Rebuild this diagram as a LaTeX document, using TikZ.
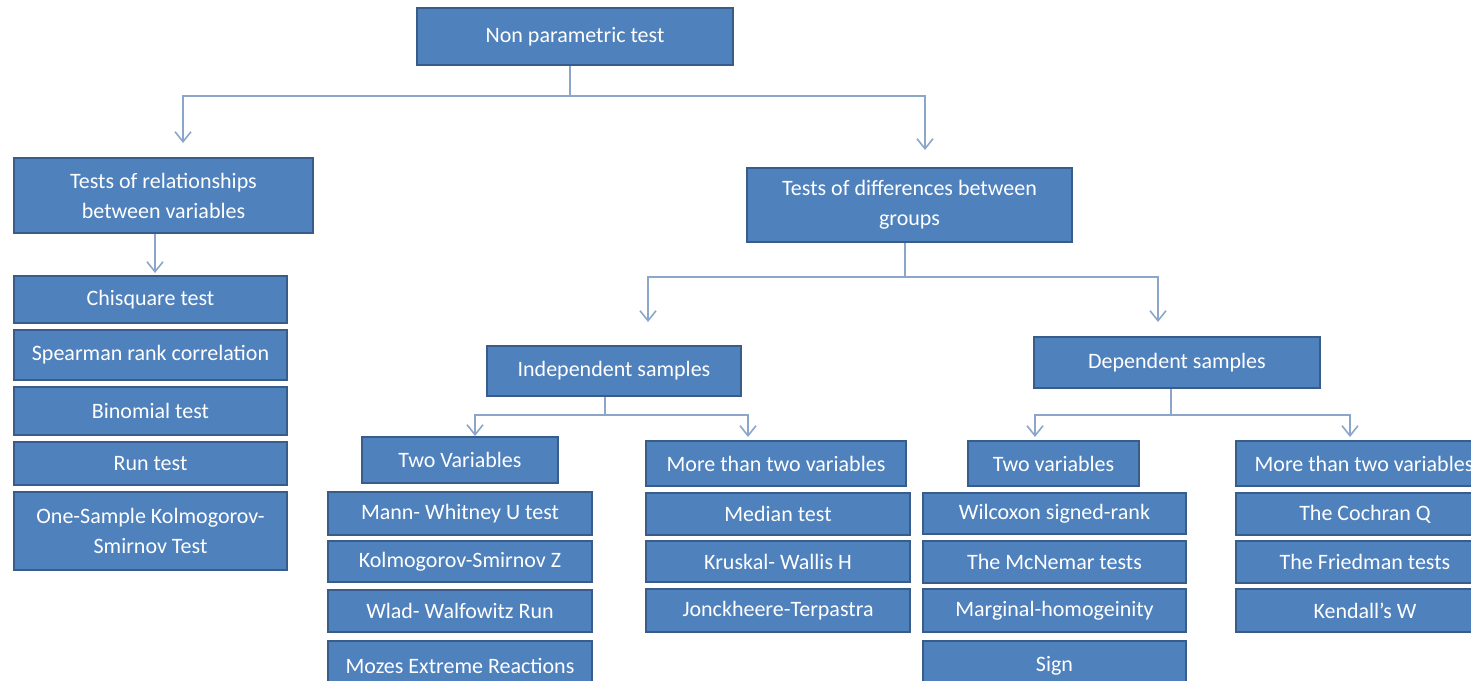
\documentclass[tikz,border=0pt]{standalone}
\usepackage{fontspec}
\setmainfont{Carlito}
\usetikzlibrary{arrows.meta}

\definecolor{boxfill}{RGB}{79,129,189}
\definecolor{boxedge}{RGB}{56,93,138}
\definecolor{linkcol}{RGB}{140,166,201}

\tikzset{
  testbox/.style={draw=boxedge, fill=boxfill, line width=1pt, text=white,
    inner sep=0pt, align=center, font=\fontsize{11}{15}\selectfont},
  link/.style={draw=linkcol, line width=0.8pt},
  arrowlink/.style={link, -{Straight Barb[length=5pt,width=8pt]}}
}

\begin{document}
\begin{tikzpicture}[x=0.5pt,y=-0.5pt]
  \useasboundingbox (0,0) rectangle (1471,680);
  \clip (0,0) rectangle (1471,680);

  % top levels
  \node[testbox, minimum width=158pt, minimum height=28.5pt] (root) at (575,36.5) {Non parametric test};
  \node[testbox, minimum width=149.5pt, minimum height=37.5pt] (rel) at (163.5,195.5) {Tests of relationships\\between variables};
  \node[testbox, minimum width=162.5pt, minimum height=37pt] (diff) at (909.5,205) {Tests of differences between\\groups};

  % relationships column
  \node[testbox, minimum width=136.5pt, minimum height=23.5pt] (chi) at (150.5,299.5) {Chisquare test};
  \node[testbox, minimum width=136.5pt, minimum height=25pt] (spear) at (150.5,355) {Spearman rank correlation};
  \node[testbox, minimum width=136.5pt, minimum height=24pt] (binom) at (150.5,411) {Binomial test};
  \node[testbox, minimum width=136.5pt, minimum height=21.5pt] (run) at (150.5,463.5) {Run test};
  \node[testbox, minimum width=136.5pt, minimum height=39pt] (kso) at (150.5,531) {One-Sample Kolmogorov-\\Smirnov Test};

  % samples
  \node[testbox, minimum width=127pt, minimum height=25pt] (indep) at (614,371) {Independent samples};
  \node[testbox, minimum width=143pt, minimum height=25.5pt] (dep) at (1177,362.5) {Dependent samples};

  % independent, two variables
  \node[testbox, minimum width=98pt, minimum height=23pt] (twoi) at (460,460) {Two Variables};
  \node[testbox, minimum width=132pt, minimum height=21.5pt] (mann) at (460,513.5) {Mann- Whitney U test};
  \node[testbox, minimum width=132pt, minimum height=20.5pt] (ksz) at (460,561.5) {Kolmogorov-Smirnov Z};
  \node[testbox, minimum width=132pt, minimum height=21pt] (wlad) at (460,611) {Wlad- Walfowitz Run};
  \node[testbox, minimum width=132pt, minimum height=24.5pt] (mozes) at (460,665.5) {Mozes Extreme Reactions};

  % independent, more than two
  \node[testbox, minimum width=130pt, minimum height=22.5pt] (morei) at (776,463.5) {More than two variables};
  \node[testbox, minimum width=132pt, minimum height=21pt] (median) at (778,514) {Median test};
  \node[testbox, minimum width=132pt, minimum height=20.5pt] (krusk) at (778,561.5) {Kruskal- Wallis H};
  \node[testbox, minimum width=132pt, minimum height=21.5pt] (jonck) at (778,610.5) {Jonckheere-Terpastra};

  % dependent, two variables
  \node[testbox, minimum width=85.5pt, minimum height=22.5pt] (twod) at (1053.5,463.5) {Two variables};
  \node[testbox, minimum width=131.5pt, minimum height=20.5pt] (wilc) at (1054.5,513.5) {Wilcoxon signed-rank};
  \node[testbox, minimum width=131.5pt, minimum height=21pt] (mcnem) at (1054.5,562) {The McNemar tests};
  \node[testbox, minimum width=131.5pt, minimum height=21.5pt] (marg) at (1054.5,610.5) {Marginal-homogeinity};
  \node[testbox, minimum width=131.5pt, minimum height=24.5pt] (sign) at (1054.5,665.5) {Sign};

  % dependent, more than two
  \node[testbox, minimum width=128pt, minimum height=22.5pt] (mored) at (1364,463.5) {More than two variables};
  \node[testbox, minimum width=129pt, minimum height=21pt] (cochran) at (1365,514) {The Cochran Q};
  \node[testbox, minimum width=129pt, minimum height=21pt] (fried) at (1365,562) {The Friedman tests};
  \node[testbox, minimum width=129pt, minimum height=21.5pt] (kend) at (1365,610.5) {Kendall’s W};

  % forks and arrow ends
  \coordinate (forka) at (570,96);
  \coordinate (tiprel) at (183,143);
  \coordinate (tipdiff) at (925,150);
  \coordinate (tipchi) at (155,273);
  \coordinate (forkb) at (905,277);
  \coordinate (tipind) at (648,322);
  \coordinate (tipdep) at (1158,322);
  \coordinate (forkc) at (605,415);
  \coordinate (tiptwoi) at (475,436);
  \coordinate (tipmorei) at (748,437);
  \coordinate (forkd) at (1171,415);
  \coordinate (tiptwod) at (1035,437);
  \coordinate (tipmored) at (1350,437);

  % connectors
  \draw[arrowlink] (root.south -| forka) -- (forka) -| (tiprel);
  \draw[arrowlink] (forka) -| (tipdiff);
  \draw[arrowlink] (rel.south -| tipchi) -- (tipchi);
  \draw[arrowlink] (diff.south -| forkb) -- (forkb) -| (tipind);
  \draw[arrowlink] (forkb) -| (tipdep);
  \draw[arrowlink] (indep.south -| forkc) -- (forkc) -| (tiptwoi);
  \draw[arrowlink] (forkc) -| (tipmorei);
  \draw[arrowlink] (dep.south -| forkd) -- (forkd) -| (tiptwod);
  \draw[arrowlink] (forkd) -| (tipmored);
\end{tikzpicture}
\end{document}
